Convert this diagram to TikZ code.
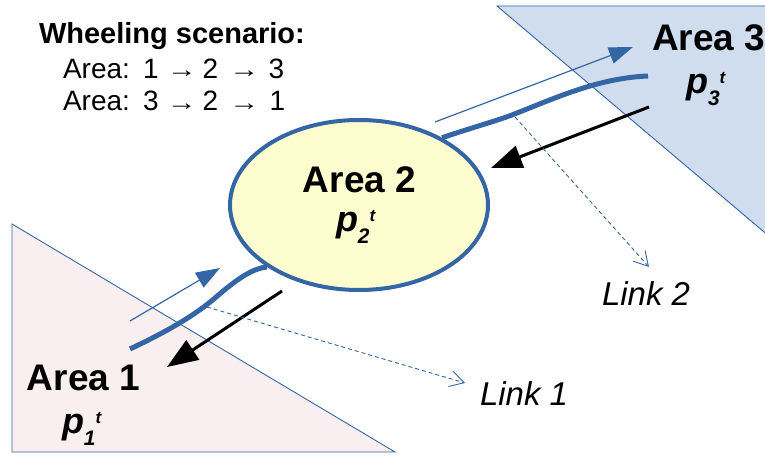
\documentclass[tikz,border=0pt]{standalone}
\usepackage{fontspec}
\usepackage{graphicx}
\setmainfont{Liberation Sans}
\usetikzlibrary{arrows.meta,shapes.geometric}
\definecolor{lblue}{HTML}{3465A4}
\definecolor{fillthree}{HTML}{CFDDEE}
\definecolor{fillone}{HTML}{F9EEF0}
\definecolor{filltwo}{HTML}{FDFDD0}
\newcommand\whar{\makebox[0pt]{\raisebox{0.5pt}{\scalebox{1.3}[1]{\fontsize{23}{23}\selectfont →}}}}
\newcommand\wch[1]{\makebox[0pt]{#1}}
\newcommand\pvar[1]{{\bfseries\itshape p\raisebox{-12pt}{\fontsize{21}{21}\selectfont #1}\raisebox{10pt}{\fontsize{17}{17}\selectfont t}}}
\tikzset{
  txt/.style={inner sep=0pt, outer sep=0pt},
  areatxt/.style={txt, font=\fontsize{37}{37}\selectfont\bfseries},
  pvtxt/.style={txt, font=\fontsize{36}{36}\selectfont},
  linktxt/.style={txt, font=\fontsize{33}{33}\selectfont\itshape},
  sctxt/.style={txt, font=\fontsize{28}{28}\selectfont},
  tri/.style={draw=lblue, line width=0.9pt},
  wave/.style={draw=lblue, line width=5pt},
  flowarr/.style={draw=lblue, line width=1.2pt, -{Triangle[length=24pt,width=17pt,fill=lblue]}},
  blackarr/.style={draw=black, line width=3pt, -{Triangle[length=31pt,width=23pt]}},
  linkarr/.style={draw=lblue, line width=0.9pt, dash pattern=on 4pt off 3pt, -{Straight Barb[length=14pt,width=16pt,line width=0.9pt]}}
}
\begin{document}
\begin{tikzpicture}[x=1pt,y=-1pt]
\useasboundingbox (0,0) rectangle (765,457);
\clip (0,0) rectangle (765,457);
% area triangles
\path[tri, fill=fillthree] (497,6) -- (900,6) -- (900,347) -- cycle;
\path[tri, fill=fillone] (12,224) -- (12,452) -- (395,452) -- cycle;
% area 2 ellipse
\node[ellipse, draw=lblue, fill=filltwo, line width=4pt, minimum width=258pt, minimum height=170pt, inner sep=0pt] (a2) at (359,205) {};
% texts
\node[txt, anchor=base west, font=\fontsize{29}{29}\selectfont\bfseries] (title) at (39,44) {Wheeling scenario:};
\node[sctxt, anchor=base west] (sc1) at (63,78.5) {Area:\hspace{21pt}\wch{1}\hspace{31pt}\whar\hspace{28.5pt}\wch{2}\hspace{34pt}\whar\hspace{32pt}\wch{3}\hspace{8pt}};
\node[sctxt, anchor=base west] (sc2) at (63,111) {Area:\hspace{21pt}\wch{3}\hspace{31pt}\whar\hspace{28.5pt}\wch{2}\hspace{34pt}\whar\hspace{33pt}\wch{1}\hspace{8pt}};
\node[areatxt, anchor=base] (t2) at (359.5,193) {Area 2};
\node[pvtxt, anchor=base west] (p2) at (336,231) {\pvar{2}};
\node[areatxt, anchor=base west] (t3) at (652,51) {Area 3};
\node[pvtxt, anchor=base west] (p3) at (686,94) {\pvar{3}};
\node[areatxt, anchor=base west] (t1) at (27,390) {Area 1};
\node[pvtxt, anchor=base west] (p1) at (62,433) {\pvar{1}};
\node[linktxt, anchor=base west] (lk1) at (480,405) {Link 1};
\node[linktxt, anchor=base west] (lk2) at (602,305) {Link 2};
% coordinates
\coordinate (w2end) at (648,76);
\coordinate (w1end) at (130,349);
\coordinate (f2s) at (435,122);
\coordinate (f2e) at (633,47);
\coordinate (f1s) at (130,321);
\coordinate (f1e) at (220,268);
\coordinate (b2s) at (649,107);
\coordinate (b2e) at (491,168);
\coordinate (b1s) at (282,291);
\coordinate (b1e) at (167,367);
\coordinate (d2s) at (515,117);
\coordinate (d2e) at (649,267);
\coordinate (d1s) at (207,307);
\coordinate (d1e) at (465,383);
% link wires
\draw[wave] (a2.39) .. controls (480,125) and (500,120) .. (517,113) .. controls (560,96) and (600,78) .. (w2end);
\draw[wave] (a2.214) .. controls (255,268) and (240,276) .. (215,298) .. controls (195,315) and (170,330) .. (w1end);
% flows
\draw[flowarr] (f2s) -- (f2e);
\draw[flowarr] (f1s) -- (f1e);
\draw[blackarr] (b2s) -- (b2e);
\draw[blackarr] (b1s) -- (b1e);
\draw[linkarr] (d2s) -- (d2e);
\draw[linkarr] (d1s) -- (d1e);
\end{tikzpicture}
\end{document}
